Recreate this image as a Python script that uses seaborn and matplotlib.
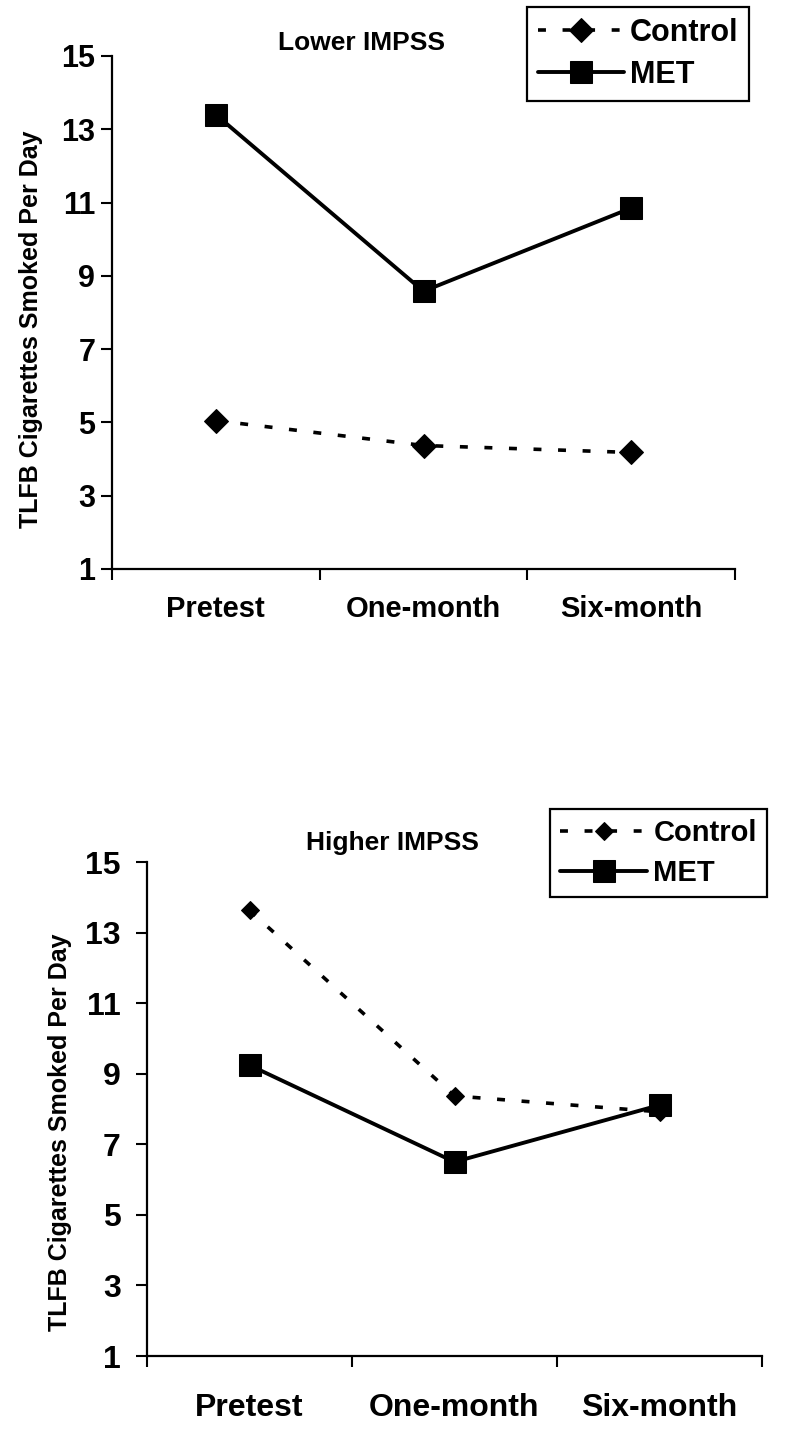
import numpy as np
import pandas as pd
import matplotlib
matplotlib.use('Agg')
import matplotlib.pyplot as plt
import seaborn as sns

# data
timepoints = ['Pretest', 'One-month', 'Six-month']
lower_control = [5.05, 4.37, 4.18]
lower_met = [13.40, 8.58, 10.85]
higher_control = [13.63, 8.37, 7.92]
higher_met = [9.24, 6.50, 8.11]
yticks = [1, 3, 5, 7, 9, 11, 13, 15]

sns.set_theme(style='white')
plt.rcParams['font.family'] = ['Liberation Sans', 'DejaVu Sans']
plt.rcParams['font.weight'] = 'bold'
plt.rcParams['text.color'] = 'black'
plt.rcParams['xtick.color'] = 'black'
plt.rcParams['ytick.color'] = 'black'

W, H = 795, 1429
fig = plt.figure(figsize=(W / 100, H / 100), dpi=100)


def px_rect(left, top, right, bottom):
    return [left / W, 1 - bottom / H, (right - left) / W, (bottom - top) / H]


def draw_panel(rect, control, met, title, title_xy, ylab_xy, leg_anchor,
               tick_fs, cat_fs, leg_fs, cat_pad, ytick_pad, diamond_ms, handlelen):
    ax = fig.add_axes(px_rect(*rect))
    df = pd.DataFrame({'pos': np.arange(len(timepoints)), 'Control': control, 'MET': met})

    sns.lineplot(data=df, x='pos', y='Control', ax=ax, color='black', lw=2.6,
                 marker='D', markersize=diamond_ms,
                 markeredgecolor='black', markerfacecolor='black', label='Control')
    sns.lineplot(data=df, x='pos', y='MET', ax=ax, color='black', lw=2.8,
                 marker='s', markersize=15.5, markeredgecolor='black',
                 markerfacecolor='black', label='MET')
    ax.lines[0].set_dashes((2.2, 4.6))

    ax.set_xlim(-0.5, len(timepoints) - 0.5)
    ax.set_ylim(1, 15)
    ax.set_yticks(yticks)
    ax.set_yticklabels([str(v) for v in yticks], fontsize=tick_fs, fontweight='bold')
    ax.set_xticks(np.arange(len(timepoints) + 1) - 0.5)
    ax.set_xticklabels([])
    ax.set_xticks(np.arange(len(timepoints)), labels=timepoints, minor=True)
    for lab in ax.get_xticklabels(minor=True):
        lab.set_fontsize(cat_fs)
        lab.set_fontweight('bold')
    ax.tick_params(axis='x', which='minor', bottom=True, length=0, pad=cat_pad)
    ax.tick_params(axis='x', which='major', bottom=True, direction='out', length=8,
                   width=1.5, color='black')
    ax.tick_params(axis='y', left=True, direction='out', length=8, width=1.5,
                   color='black', pad=ytick_pad)
    ax.set_xlabel('')
    ax.set_ylabel('')
    for side in ['top', 'right']:
        ax.spines[side].set_visible(False)
    for side in ['left', 'bottom']:
        ax.spines[side].set_color('black')
        ax.spines[side].set_linewidth(1.6)

    fig.text(title_xy[0] / W, 1 - title_xy[1] / H, title, ha='center', va='center',
             fontsize=19, fontweight='bold')
    fig.text(ylab_xy[0] / W, 1 - ylab_xy[1] / H, 'TLFB Cigarettes Smoked Per Day',
             rotation=90, ha='center', va='center', fontsize=18, fontweight='bold')

    leg = ax.legend(loc='upper right', bbox_to_anchor=(leg_anchor[0] / W, 1 - leg_anchor[1] / H),
                    bbox_transform=fig.transFigure, frameon=True, fancybox=False,
                    edgecolor='black', framealpha=1, borderaxespad=0,
                    handlelength=handlelen, handletextpad=0.2, borderpad=0.35,
                    labelspacing=0.4, prop={'weight': 'bold', 'size': leg_fs})
    leg.get_frame().set_linewidth(1.6)
    return ax


draw_panel((112, 56, 735, 569), lower_control, lower_met, 'Lower IMPSS',
           (362, 43), (31, 329), (749, 7),
           tick_fs=22, cat_fs=21, leg_fs=22, cat_pad=19, ytick_pad=4,
           diamond_ms=12, handlelen=2.8)

draw_panel((147, 862, 762, 1356), higher_control, higher_met, 'Higher IMPSS',
           (392, 843), (60, 1132), (767, 809),
           tick_fs=23, cat_fs=23, leg_fs=21, cat_pad=27, ytick_pad=11,
           diamond_ms=9, handlelen=3.0)

fig.savefig('out.png', dpi=100)
